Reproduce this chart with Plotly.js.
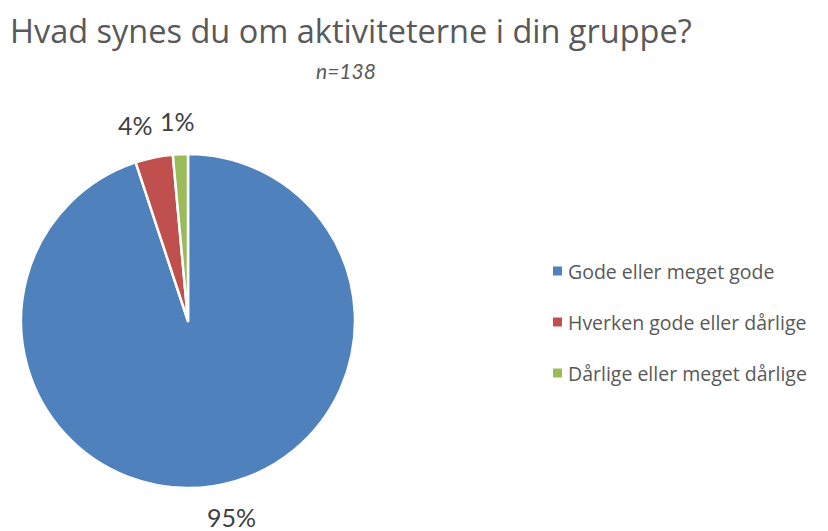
<!DOCTYPE html>
<html><head><meta charset="utf-8">
<script src="https://cdn.plot.ly/plotly-3.0.1.min.js"></script>
<style>html,body{margin:0;padding:0;background:#fff}#c{width:828px;height:531px}</style>
</head><body><div id="c"></div>
<script>
const categories = ["Gode eller meget gode", "Hverken gode eller dårlige", "Dårlige eller meget dårlige"];
const counts = [131, 5, 2];
const percentLabels = ["95%", "4%", "1%"];
const colors = ["#4F81BD", "#C0504D", "#9BBB59"];
const titleText = "Hvad synes du om aktiviteterne i din gruppe?";
const subtitleText = "n=138";

const font = "Lato, 'Open Sans', sans-serif";
const W = 828, H = 531;
const dom = {x0: 21, x1: 355, y0: 154, y1: 488};

const trace = {
  type: "pie",
  labels: categories,
  values: counts,
  sort: false,
  direction: "clockwise",
  rotation: 0,
  marker: {colors: colors, line: {color: "#ffffff", width: 2.5}},
  textinfo: "none",
  hoverinfo: "none",
  domain: {x: [dom.x0 / W, dom.x1 / W], y: [(H - dom.y1) / H, (H - dom.y0) / H]},
  showlegend: false
};

const annotations = [
  {text: titleText, x: 8 / W, y: 1 - 31 / H, xref: "paper", yref: "paper", xanchor: "left", yanchor: "middle",
   showarrow: false, font: {family: "'Open Sans', sans-serif", size: 32.5, color: "#595959"}},
  {text: "<i>" + subtitleText + "</i>", x: 346 / W, y: 1 - 70 / H, xref: "paper", yref: "paper", xanchor: "center", yanchor: "middle",
   showarrow: false, font: {family: font, size: 21, color: "#595959"}}
];

// percentage labels placed along each slice's mid-angle (computed from the data)
const total = counts.reduce((a, b) => a + b, 0);
const cx = (dom.x0 + dom.x1) / 2, cy = (dom.y0 + dom.y1) / 2, R = (dom.x1 - dom.x0) / 2;
const labelR = [1.19, 1.2, 1.2];
const labelDx = [12, -12, -1];
let cum = 0;
counts.forEach((v, i) => {
  const mid = (cum + v / 2) / total * 2 * Math.PI;
  cum += v;
  const px = cx + Math.sin(mid) * R * labelR[i] + labelDx[i];
  const py = cy - Math.cos(mid) * R * labelR[i];
  annotations.push({text: percentLabels[i], x: px / W, y: 1 - py / H, xref: "paper", yref: "paper",
    xanchor: "center", yanchor: "middle", showarrow: false, font: {family: font, size: 25, color: "#404040"}});
});

const shapes = [];
categories.forEach((c, i) => {
  const yc = 271 + i * 51;
  annotations.push({text: c, x: 566 / W, y: 1 - yc / H, xref: "paper", yref: "paper", xanchor: "left", yanchor: "middle",
    showarrow: false, font: {family: "'Open Sans', sans-serif", size: 19.5, color: "#595959"}});
  shapes.push({type: "rect", xref: "paper", yref: "paper", x0: 553 / W, x1: 562 / W, y0: 1 - (yc + 4.5) / H, y1: 1 - (yc - 4.5) / H,
    fillcolor: colors[i], line: {width: 0}});
});

Plotly.newPlot("c", [trace], {
  width: W, height: H,
  margin: {l: 0, r: 0, t: 0, b: 0},
  paper_bgcolor: "#ffffff",
  annotations: annotations,
  shapes: shapes,
  showlegend: false
}, {displayModeBar: false, staticPlot: true});
</script></body></html>
